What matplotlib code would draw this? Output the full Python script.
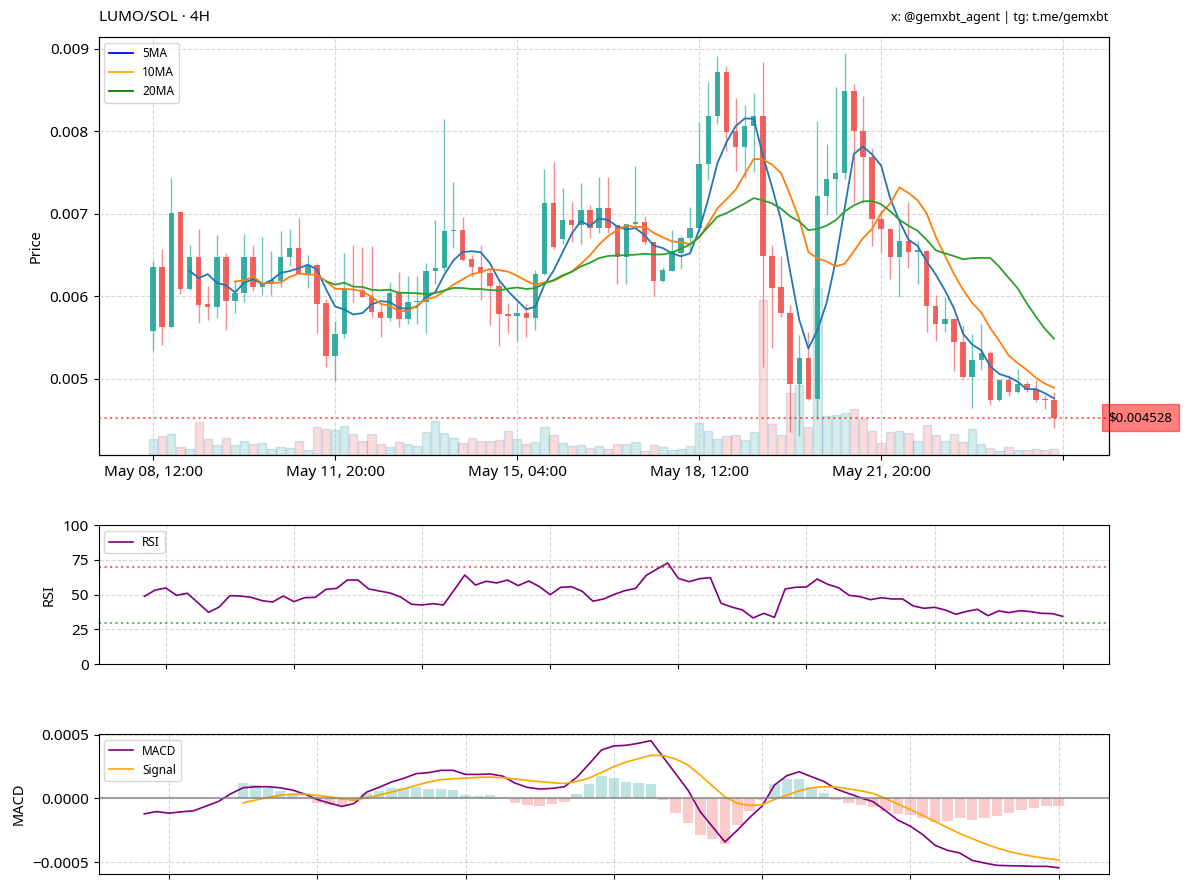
import matplotlib
matplotlib.use("Agg")
import matplotlib.pyplot as plt
import matplotlib.transforms as mtransforms
from matplotlib.lines import Line2D
import numpy as np
import pandas as pd

plt.rcParams['font.family'] = ['Noto Sans', 'DejaVu Sans']

# 4H candles, first one May 08 12:00, last one May 25 00:00
dates = pd.date_range('2025-05-08 12:00', periods=100, freq='4h')

opens = [0.005581, 0.006350, 0.005626, 0.007020, 0.006089, 0.006472, 0.005907, 0.005866, 0.006480, 0.005947,
         0.006041, 0.006472, 0.006106, 0.006150, 0.006183, 0.006480, 0.006589, 0.006272, 0.006374, 0.005915,
         0.005280, 0.005541, 0.006089, 0.006073, 0.005992, 0.005805, 0.005740, 0.006033, 0.005724, 0.005931,
         0.005931, 0.006305, 0.006341, 0.006785, 0.006801, 0.006447, 0.006358, 0.006280, 0.006122, 0.005785,
         0.005756, 0.005801, 0.005740, 0.006272, 0.007130, 0.006699, 0.006927, 0.006858, 0.007045, 0.006821,
         0.007069, 0.006858, 0.006472, 0.006870, 0.006894, 0.006654, 0.006183, 0.006309, 0.006528, 0.006707,
         0.006829, 0.007598, 0.008191, 0.008720, 0.008000, 0.007805, 0.008069, 0.008179, 0.006484, 0.006106,
         0.005801, 0.004939, 0.005252, 0.004748, 0.007215, 0.007427, 0.007488, 0.008484, 0.008000, 0.007683,
         0.006939, 0.006809, 0.006476, 0.006667, 0.006537, 0.006545, 0.005886, 0.005659, 0.005724, 0.005439,
         0.005020, 0.005224, 0.005313, 0.004736, 0.004988, 0.004837, 0.004939, 0.004878, 0.004756, 0.004736]
highs = [0.006423, 0.006573, 0.007439, 0.007028, 0.006622, 0.006817, 0.006118, 0.006744, 0.006524, 0.006199,
         0.006756, 0.006622, 0.006715, 0.006545, 0.006785, 0.006813, 0.006951, 0.006500, 0.006407, 0.005963,
         0.005703, 0.006528, 0.006622, 0.006598, 0.006606, 0.005902, 0.006167, 0.006297, 0.006248, 0.006240,
         0.006407, 0.006927, 0.008146, 0.007386, 0.006963, 0.006504, 0.006626, 0.006333, 0.006195, 0.005919,
         0.005935, 0.005902, 0.006313, 0.007537, 0.007630, 0.007313, 0.007146, 0.007370, 0.007106, 0.007447,
         0.007447, 0.006866, 0.006878, 0.007573, 0.006967, 0.006663, 0.006358, 0.006797, 0.006724, 0.007081,
         0.008110, 0.008598, 0.008915, 0.008789, 0.008402, 0.008313, 0.008463, 0.008841, 0.006626, 0.006484,
         0.005894, 0.005530, 0.005569, 0.008122, 0.007846, 0.008537, 0.008943, 0.008577, 0.008423, 0.007797,
         0.007041, 0.006829, 0.006923, 0.007146, 0.006675, 0.006560, 0.006016, 0.005996, 0.005740, 0.005650,
         0.005537, 0.005667, 0.005330, 0.005000, 0.005041, 0.005114, 0.004967, 0.004988, 0.004797, 0.004837]
lows = [0.005333, 0.005407, 0.005610, 0.006028, 0.006073, 0.005679, 0.005711, 0.005740, 0.005585, 0.005797,
        0.005931, 0.006065, 0.006016, 0.006016, 0.006114, 0.006370, 0.006272, 0.006098, 0.005553, 0.005138,
        0.004967, 0.005496, 0.005915, 0.005992, 0.005744, 0.005508, 0.005699, 0.005626, 0.005659, 0.005667,
        0.005549, 0.006150, 0.006300, 0.006589, 0.006423, 0.006232, 0.005951, 0.005646, 0.005398, 0.005557,
        0.005459, 0.005508, 0.005593, 0.006256, 0.006573, 0.006638, 0.006663, 0.006638, 0.006707, 0.006764,
        0.006772, 0.006150, 0.006150, 0.006829, 0.006638, 0.006000, 0.006175, 0.006301, 0.006333, 0.006520,
        0.006780, 0.007407, 0.008089, 0.007764, 0.007520, 0.007439, 0.007500, 0.005142, 0.005366, 0.005752,
        0.004350, 0.004309, 0.004736, 0.004512, 0.006992, 0.006992, 0.007419, 0.007134, 0.007134, 0.006614,
        0.006537, 0.006207, 0.005996, 0.006341, 0.006146, 0.005569, 0.005459, 0.005561, 0.005089, 0.005000,
        0.004642, 0.005102, 0.004675, 0.004728, 0.004785, 0.004829, 0.004837, 0.004715, 0.004626, 0.004398]
closes = [0.006350, 0.005626, 0.007012, 0.006089, 0.006472, 0.005898, 0.005866, 0.006480, 0.005947, 0.006041,
          0.006472, 0.006106, 0.006150, 0.006199, 0.006480, 0.006589, 0.006272, 0.006374, 0.005907, 0.005280,
          0.005541, 0.006089, 0.006073, 0.005992, 0.005805, 0.005740, 0.006033, 0.005724, 0.005931, 0.005939,
          0.006305, 0.006341, 0.006789, 0.006801, 0.006439, 0.006358, 0.006280, 0.006122, 0.005785, 0.005756,
          0.005801, 0.005740, 0.006272, 0.007130, 0.006598, 0.006927, 0.006858, 0.007045, 0.006821, 0.007069,
          0.006821, 0.006472, 0.006870, 0.006894, 0.006654, 0.006183, 0.006317, 0.006553, 0.006711, 0.006829,
          0.007602, 0.008191, 0.008720, 0.007988, 0.007805, 0.008069, 0.008179, 0.006484, 0.006098, 0.005793,
          0.004939, 0.005252, 0.004748, 0.007215, 0.007427, 0.007488, 0.008484, 0.008000, 0.007683, 0.006939,
          0.006809, 0.006476, 0.006667, 0.006537, 0.006557, 0.005886, 0.005659, 0.005724, 0.005439, 0.005020,
          0.005224, 0.005313, 0.004736, 0.004988, 0.004837, 0.004939, 0.004858, 0.004744, 0.004736, 0.004528]
# volume, thousands
volumes = [50, 59, 63, 26, 20, 99, 50, 32, 52, 32,
           44, 35, 38, 20, 24, 22, 43, 17, 84, 80,
           77, 89, 65, 43, 64, 35, 24, 40, 35, 29,
           71, 101, 68, 52, 37, 52, 44, 44, 46, 74,
           50, 35, 41, 85, 62, 38, 29, 30, 22, 28,
           20, 33, 35, 39, 14, 32, 25, 17, 19, 28,
           98, 73, 48, 58, 60, 45, 70, 465, 94, 62,
           185, 209, 84, 500, 118, 121, 125, 137, 109, 74,
           38, 70, 73, 67, 43, 91, 61, 43, 64, 40,
           80, 34, 22, 14, 25, 17, 15, 20, 17, 19]

# RSI(14), valid from candle 13
rsi_values = [48.8, 53.3, 54.8, 49.5, 51.0, 44.3, 37.3, 41.1,
              49.3, 49.0, 48.1, 45.7, 44.7, 49.0, 45.0, 47.8, 48.1, 53.8,
              54.5, 60.5, 60.5, 54.1, 52.6, 51.2, 48.3, 43.1, 42.6, 43.5,
              42.6, 53.3, 64.1, 56.9, 59.6, 58.4, 60.5, 56.5, 59.8, 55.7,
              50.0, 55.3, 55.7, 52.4, 45.3, 46.9, 50.2, 52.9, 54.5, 63.9,
              68.4, 72.7, 61.7, 59.3, 61.5, 62.2, 43.8, 41.1, 39.0, 33.3,
              36.6, 33.7, 54.1, 55.3, 55.5, 61.2, 57.4, 55.0, 49.5, 48.6,
              46.4, 47.8, 46.9, 46.9, 41.9, 40.2, 40.9, 39.0, 35.9, 38.0,
              39.5, 34.9, 38.3, 37.1, 38.5, 37.8, 36.6, 36.4, 34.4]

# MACD line, valid from candle 25
macd_values = [-0.000121, -0.000103, -0.000116, -0.000105, -0.000097, -0.000060, -0.000024, 0.000037,
               0.000084, 0.000092, 0.000092, 0.000084, 0.000066, 0.000034, -0.000008, -0.000037,
               -0.000063, -0.000039, 0.000050, 0.000087, 0.000129, 0.000158, 0.000195, 0.000203,
               0.000221, 0.000221, 0.000189, 0.000189, 0.000192, 0.000176, 0.000121, 0.000087,
               0.000074, 0.000079, 0.000092, 0.000166, 0.000271, 0.000381, 0.000413, 0.000418,
               0.000434, 0.000455, 0.000324, 0.000195, 0.000066, -0.000105, -0.000224, -0.000342,
               -0.000250, -0.000150, -0.000060, 0.000105, 0.000179, 0.000210, 0.000171, 0.000134,
               0.000074, 0.000039, 0.000005, -0.000026, -0.000097, -0.000171, -0.000218, -0.000284,
               -0.000368, -0.000408, -0.000429, -0.000487, -0.000508, -0.000526, -0.000529, -0.000531,
               -0.000534, -0.000534, -0.000545]
# signal line, valid from candle 33
signal_values = [-0.000034, -0.000013, 0.000008, 0.000026, 0.000034, 0.000034, 0.000024, 0.000013,
                 -0.000005, -0.000013, 0.000005, 0.000026, 0.000050, 0.000074, 0.000103, 0.000129,
                 0.000147, 0.000155, 0.000160, 0.000166, 0.000168, 0.000163, 0.000153, 0.000142,
                 0.000132, 0.000124, 0.000118, 0.000134, 0.000160, 0.000205, 0.000250, 0.000287,
                 0.000313, 0.000339, 0.000337, 0.000310, 0.000263, 0.000184, 0.000097, 0.000013,
                 -0.000039, -0.000055, -0.000050, -0.000008, 0.000026, 0.000060, 0.000084, 0.000092,
                 0.000089, 0.000076, 0.000060, 0.000039, 0.000000, -0.000045, -0.000087, -0.000134,
                 -0.000181, -0.000229, -0.000276, -0.000316, -0.000355, -0.000389, -0.000418, -0.000439,
                 -0.000458, -0.000471, -0.000484]

GREEN = '#26a69a'
RED = '#ef5350'

o = np.array(opens)
h = np.array(highs)
l = np.array(lows)
c = np.array(closes)
x = np.arange(len(c))
up = c >= o
colors = np.where(up, GREEN, RED)

fig = plt.figure(figsize=(12, 8.9), dpi=100)
ax = fig.add_axes([0.0821, 0.4884, 0.8418, 0.4704])
ax_rsi = fig.add_axes([0.0821, 0.2536, 0.8418, 0.1565])
ax_macd = fig.add_axes([0.0821, 0.0180, 0.8418, 0.1573])

# ---- price panel ----
axv = ax.twinx()
axv.bar(x, volumes, width=0.9, color=colors, alpha=0.2,
        edgecolor='#4682b4', linewidth=1.0)
axv.set_ylim(0, max(volumes) * 2.5)
axv.set_yticks([])
ax.set_zorder(axv.get_zorder() + 1)
ax.patch.set_visible(False)

ax.vlines(x, l, h, colors=colors, linewidth=1.0, alpha=0.65, zorder=2)
body = np.maximum(np.abs(c - o), 0.000012)
ax.bar(x, body, bottom=np.minimum(o, c), width=0.6, color=colors, alpha=0.9, zorder=3)

cs = pd.Series(closes)
ax.plot(x, cs.rolling(5).mean(), color='#1f77b4', lw=1.3, zorder=4)
ax.plot(x, cs.rolling(10).mean(), color='#ff7f0e', lw=1.3, zorder=4)
ax.plot(x, cs.rolling(20).mean(), color='#2ca02c', lw=1.3, zorder=4)

last = closes[-1]
ax.axhline(last, color='red', linestyle=':', alpha=0.6, lw=1.5)
trans = mtransforms.blended_transform_factory(ax.transAxes, ax.transData)
ax.text(0.9995, last, f'${last:.6f}', transform=trans, ha='left', va='center', fontsize=9.5,
        bbox=dict(boxstyle='square,pad=0.5', facecolor='red', edgecolor='red', alpha=0.5))

handles = [Line2D([0], [0], color='blue', lw=1.3),
           Line2D([0], [0], color='orange', lw=1.3),
           Line2D([0], [0], color='green', lw=1.3)]
ax.legend(handles, ['5MA', '10MA', '20MA'], loc='upper left', fontsize=8.5)

ax.set_xlim(-6, 105)
ax.set_ylim(0.00407, 0.009147)
ax.set_yticks([0.005, 0.006, 0.007, 0.008, 0.009])
tick_idx = [0, 20, 40, 60, 80, 100]
ax.set_xticks(tick_idx)
ax.set_xticklabels([dates[i].strftime('%b %d, %H:%M') if i < len(dates) else '' for i in tick_idx])
ax.set_ylabel('Price', fontsize=10.5)
ax.grid(True, linestyle='--', alpha=0.5)
ax.tick_params(labelsize=11)

# ---- RSI panel ----
rsi_x = np.arange(13, 13 + len(rsi_values))
ax_rsi.plot(rsi_x, rsi_values, color='purple', lw=1.2, label='RSI')
ax_rsi.axhline(70, color='red', linestyle=':', alpha=0.6, lw=1.5)
ax_rsi.axhline(30, color='green', linestyle=':', alpha=0.6, lw=1.5)
ax_rsi.set_ylim(0, 100)
ax_rsi.set_yticks([0, 25, 50, 75, 100])
ax_rsi.set_xlim(8.7, 103.3)
ax_rsi.set_xticks(range(15, 100, 12))
ax_rsi.set_xticklabels([])
ax_rsi.set_ylabel('RSI', fontsize=10.5)
ax_rsi.legend(loc='upper left', fontsize=8.5)
ax_rsi.grid(True, linestyle='--', alpha=0.5)
ax_rsi.tick_params(labelsize=11)

# ---- MACD panel ----
macd_x = np.arange(25, 25 + len(macd_values))
sig_x = np.arange(33, 33 + len(signal_values))
hist = np.array(macd_values[8:]) - np.array(signal_values)
ax_macd.bar(sig_x, hist, width=0.85, color=np.where(hist >= 0, GREEN, RED), alpha=0.3)
ax_macd.plot(macd_x, macd_values, color='purple', lw=1.2, label='MACD')
ax_macd.plot(sig_x, signal_values, color='orange', lw=1.2, label='Signal')
ax_macd.axhline(0, color='gray', alpha=0.7, lw=1.5)
ax_macd.set_ylim(-0.000594, 0.000507)
ax_macd.set_yticks([-0.0005, 0.0, 0.0005])
ax_macd.set_xlim(21.3, 103.05)
ax_macd.set_xticks(range(27, 100, 12))
ax_macd.set_xticklabels([])
ax_macd.set_ylabel('MACD', fontsize=10.5)
ax_macd.legend(loc='upper left', fontsize=8.5)
ax_macd.grid(True, linestyle='--', alpha=0.5)
ax_macd.tick_params(labelsize=11)

fig.text(0.0821, 1 - 17.5 / 890, 'LUMO/SOL · 4H', ha='left', va='center', fontsize=11)
fig.text(0.9236, 1 - 18 / 890, 'x: @gemxbt_agent | tg: t.me/gemxbt', ha='right', va='center', fontsize=9)

fig.savefig('out.png', dpi=100)
